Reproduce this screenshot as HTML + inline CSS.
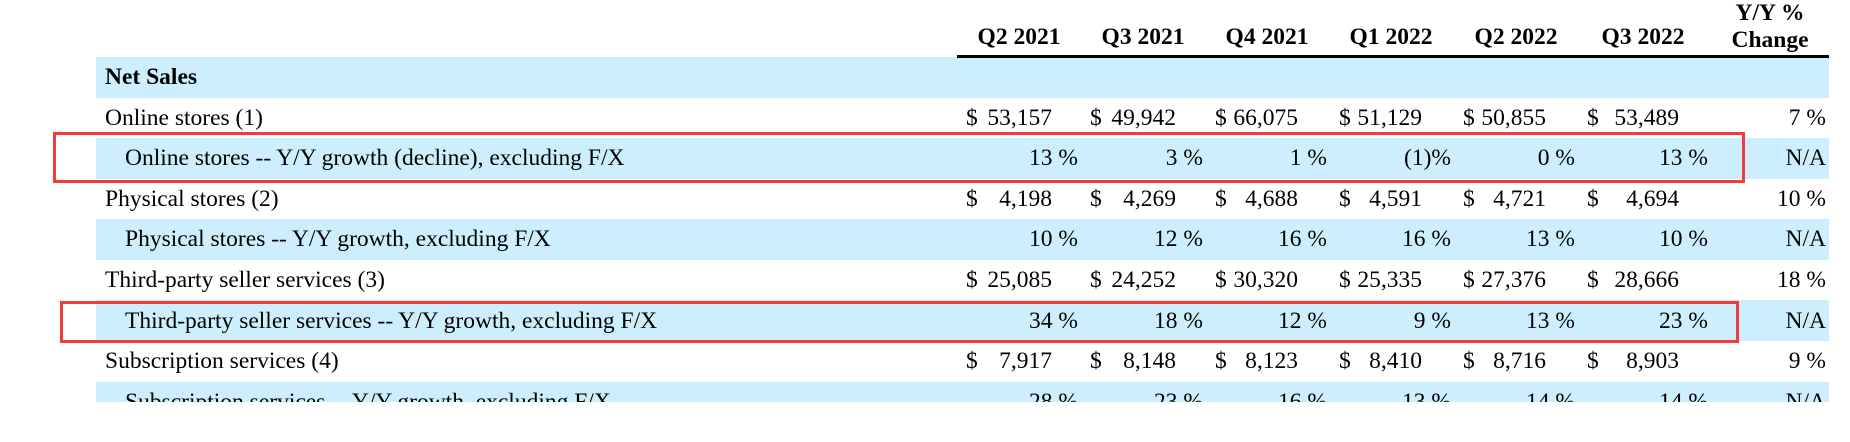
<!DOCTYPE html>
<html><head><meta charset="utf-8"><style>
body{margin:0;width:1850px;height:442px;background:#fff;overflow:hidden;position:relative;font-family:"Liberation Serif",serif;font-size:23.5px;color:#000}
.b{position:absolute;left:96px;width:1733px;background:#cdeefc}
.t{position:absolute;white-space:nowrap;line-height:41px;height:41px}
.r{text-align:right}
.h{position:absolute;font-weight:bold;text-align:center;white-space:nowrap}
.box{position:absolute;border:3px solid #f03c3c;box-sizing:border-box}
#clip{position:absolute;left:0;top:0;width:1850px;height:402px;overflow:hidden}
</style></head><body>
<div id="clip">
<div class="b" style="top:57px;height:41px"></div>
<div class="b" style="top:138px;height:41px"></div>
<div class="b" style="top:219px;height:41px"></div>
<div class="b" style="top:300px;height:41px"></div>
<div class="b" style="top:382px;height:41px"></div>
<div style="position:absolute;left:957px;top:55px;width:872px;height:3px;background:#000"></div>
<div class="h" style="left:969px;top:24px;width:100px">Q2 2021</div>
<div class="h" style="left:1093px;top:24px;width:100px">Q3 2021</div>
<div class="h" style="left:1217px;top:24px;width:100px">Q4 2021</div>
<div class="h" style="left:1341px;top:24px;width:100px">Q1 2022</div>
<div class="h" style="left:1466px;top:24px;width:100px">Q2 2022</div>
<div class="h" style="left:1593px;top:24px;width:100px">Q3 2022</div>
<div class="h" style="left:1720px;top:0px;width:100px;line-height:27px">Y/Y %<br>Change</div>
<div id="rows"></div>
</div>
<div class="box" style="left:53px;top:132px;width:1692px;height:51px"></div>
<div class="box" style="left:60px;top:301px;width:1679px;height:42px"></div>
<script>
var rows=[
["Net Sales",1,null],
["Online stores (1)",0,["53,157","49,942","66,075","51,129","50,855","53,489"],"7 %"],
["Online stores -- Y/Y growth (decline), excluding F/X",2,["13 %","3 %","1 %","(1)%","0 %","13 %"],"N/A"],
["Physical stores (2)",0,["4,198","4,269","4,688","4,591","4,721","4,694"],"10 %"],
["Physical stores -- Y/Y growth, excluding F/X",2,["10 %","12 %","16 %","16 %","13 %","10 %"],"N/A"],
["Third-party seller services (3)",0,["25,085","24,252","30,320","25,335","27,376","28,666"],"18 %"],
["Third-party seller services -- Y/Y growth, excluding F/X",2,["34 %","18 %","12 %","9 %","13 %","23 %"],"N/A"],
["Subscription services (4)",0,["7,917","8,148","8,123","8,410","8,716","8,903"],"9 %"],
["Subscription services -- Y/Y growth, excluding F/X",2,["28 %","23 %","16 %","13 %","14 %","14 %"],"N/A"]];
var dx=[966,1090,1215,1339,1463,1587],nr=[1052,1176,1298,1422,1546,1679],pr=[1078,1203,1327,1451,1575,1708];
var h="";
rows.forEach(function(r,i){
 var top=57+i*40.6;
 var x=r[1]==2?125:105;
 h+='<div class="t" style="left:'+x+'px;top:'+top+'px;'+(r[1]==1?'font-weight:bold':'')+'">'+r[0]+'</div>';
 if(!r[2])return;
 r[2].forEach(function(v,j){
  if(r[1]==0){
   h+='<div class="t" style="left:'+dx[j]+'px;top:'+top+'px">$</div>';
   h+='<div class="t r" style="left:'+(nr[j]-120)+'px;width:120px;top:'+top+'px">'+v+'</div>';
  } else {
   h+='<div class="t r" style="left:'+(pr[j]-120)+'px;width:120px;top:'+top+'px">'+v+'</div>';
  }
 });
 h+='<div class="t r" style="left:1706px;width:120px;top:'+top+'px">'+r[3]+'</div>';
});
document.getElementById("rows").innerHTML=h;
</script>
</body></html>
